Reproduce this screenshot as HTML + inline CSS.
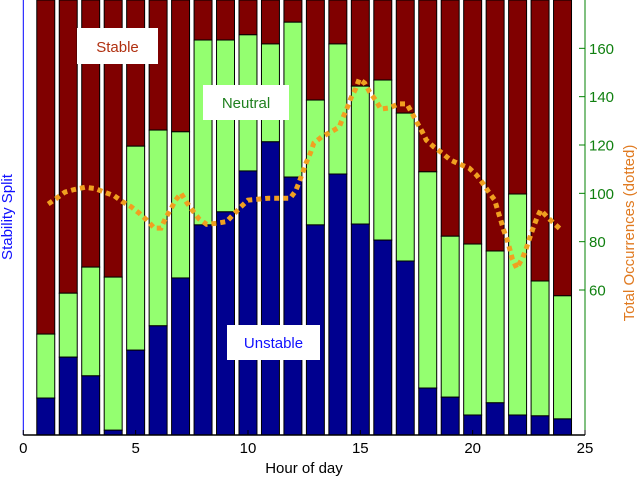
<!DOCTYPE html>
<html><head><meta charset="utf-8"><style>
body{margin:0;background:#fff;}
svg{display:block;font-family:"Liberation Sans",sans-serif;}
</style></head><body>
<svg id="chart" width="639" height="479" viewBox="0 0 639 479" xmlns="http://www.w3.org/2000/svg">
<g id="bars"></g>
<g id="line"></g>
<g id="axes"></g>
<g><rect x="77" y="28" width="81" height="36" fill="#fff"/><text x="117.5" y="52" font-size="15" fill="#b03010" text-anchor="middle">Stable</text></g>
<g><rect x="203" y="85" width="86" height="35" fill="#fff"/><text x="246" y="108" font-size="15" fill="#208020" text-anchor="middle">Neutral</text></g>
<g><rect x="227" y="325" width="93" height="35" fill="#fff"/><text x="273.5" y="348" font-size="15" fill="#1010ff" text-anchor="middle">Unstable</text></g>
<text x="304" y="473" font-size="15" text-anchor="middle" fill="#000">Hour of day</text>
<text transform="translate(12,217) rotate(-90)" font-size="15" text-anchor="middle" fill="#1010ff">Stability Split</text>
<text transform="translate(634,233) rotate(-90)" font-size="15" text-anchor="middle" fill="#e07a20">Total Occurrences (dotted)</text>
</svg>
<script>
const hours=[1,2,3,4,5,6,7,8,9,10,11,12,13,14,15,16,17,18,19,20,21,22,23,24];
const unstable=[.085,.179,.136,.011,.195,.251,.361,.483,.513,.607,.674,.593,.483,.600,.485,.448,.400,.108,.087,.046,.074,.046,.044,.037];
const neutral=[.147,.147,.250,.352,.469,.450,.336,.425,.395,.313,.225,.356,.287,.299,.317,.368,.340,.497,.370,.393,.349,.508,.310,.283];
const lineHours=[1.11,1.48,1.85,2.27,2.74,3.19,3.6,4.05,4.42,4.79,5.16,5.49,5.83,6.13,6.33,6.56,6.78,7.02,7.27,7.54,7.82,8.16,8.6,9.05,9.37,9.67,10.0,10.49,10.93,11.37,11.88,12.12,12.28,12.44,12.6,12.78,12.93,13.27,13.69,14.06,14.24,14.41,14.58,14.79,14.95,15.19,15.41,15.68,15.91,16.28,16.71,17.07,17.3,17.51,17.74,17.94,18.27,18.64,19.01,19.43,19.84,20.17,20.44,20.72,20.98,21.11,21.25,21.38,21.53,21.65,21.77,21.96,22.22,22.39,22.54,22.69,22.86,23.03,23.36,23.7,23.95];
const totals=[95.6,98,100.5,101.6,102.5,102,100.5,99,96.5,94.5,91.8,89,85.6,85.6,89.7,93.4,97.2,100,96.3,92.8,89.4,87.2,87.6,88.3,91.4,94.3,97.2,97.6,98,98,98,101,104.7,108.8,112.9,116.7,120.8,123.3,125.4,127.4,131.6,135.3,139.4,143.2,147.3,145.6,142,138.6,134.9,135.3,137,137,133.2,129.5,125.7,122,119.2,116.7,113.8,112,110.5,107.6,104.3,100.5,97.2,93.1,89,84.8,81,77,72.8,69,73.2,77.4,81.5,85.6,89.8,93.1,89.8,86.9,84.8];
const xTicks=[0,5,10,15,20,25];
const rTicks=[60,80,100,120,140,160];
const NS='http://www.w3.org/2000/svg';
const X0=23.3,X1=585,Y0=435,Y1=0;
const xs=v=>X0+(X1-X0)*v/25;
const yf=f=>Y0-(Y0-Y1)*f;
const yr=v=>Y0-(Y0-Y1)*v/180;
function mk(tag,attrs,parent){const e=document.createElementNS(NS,tag);for(const k in attrs)e.setAttribute(k,attrs[k]);parent.appendChild(e);return e;}
const bars=document.getElementById('bars');
hours.forEach((h,i)=>{
  const x=xs(h-0.4),w=xs(h+0.4)-x;
  const u=unstable[i],n=neutral[i];
  const r1=mk('rect',{x:x,y:yf(1),width:w,height:yf(u+n)-yf(1),fill:'#800000',stroke:'#000','stroke-width':1},bars);
  
  
  const r2=mk('rect',{x:x,y:yf(u+n),width:w,height:yf(u)-yf(u+n),fill:'#94ff70',stroke:'#000','stroke-width':1},bars);
  
  
  const r3=mk('rect',{x:x,y:yf(u),width:w,height:yf(0)-yf(u),fill:'#00008f',stroke:'#000','stroke-width':1},bars);
  
  
});
const line=document.getElementById('line');
const pts=lineHours.map((h,i)=>xs(h).toFixed(1)+','+yr(totals[i]).toFixed(1)).join(' ');
const pl=mk('polyline',{points:pts,fill:'none',stroke:'#f0a020','stroke-width':5,'stroke-dasharray':'5 4'},line);


const axes=document.getElementById('axes');
const la=mk('line',{x1:X0,y1:0,x2:X0,y2:Y0,stroke:'#0000ff','stroke-width':1},axes);


const ba=mk('line',{x1:X0,y1:Y0,x2:X1,y2:Y0,stroke:'#000','stroke-width':1.5},axes);


const ra=mk('line',{x1:X1,y1:0,x2:X1,y2:Y0,stroke:'#008000','stroke-width':1},axes);


xTicks.forEach(t=>{
  const tk=mk('line',{x1:xs(t),y1:Y0,x2:xs(t),y2:Y0-5,stroke:'#000'},axes);
  
  
  const tl=mk('text',{x:xs(t),y:453,'font-size':15,'text-anchor':'middle',fill:'#000'},axes);
  tl.textContent=t;
  
  
});
rTicks.forEach(t=>{
  const tk=mk('line',{x1:X1-6,y1:yr(t),x2:X1,y2:yr(t),stroke:'#008000'},axes);
  
  
  const tl=mk('text',{x:X1+4,y:yr(t)+5.5,'font-size':15,fill:'#108010'},axes);
  tl.textContent=t;
  
  
});
</script>
</body></html>
